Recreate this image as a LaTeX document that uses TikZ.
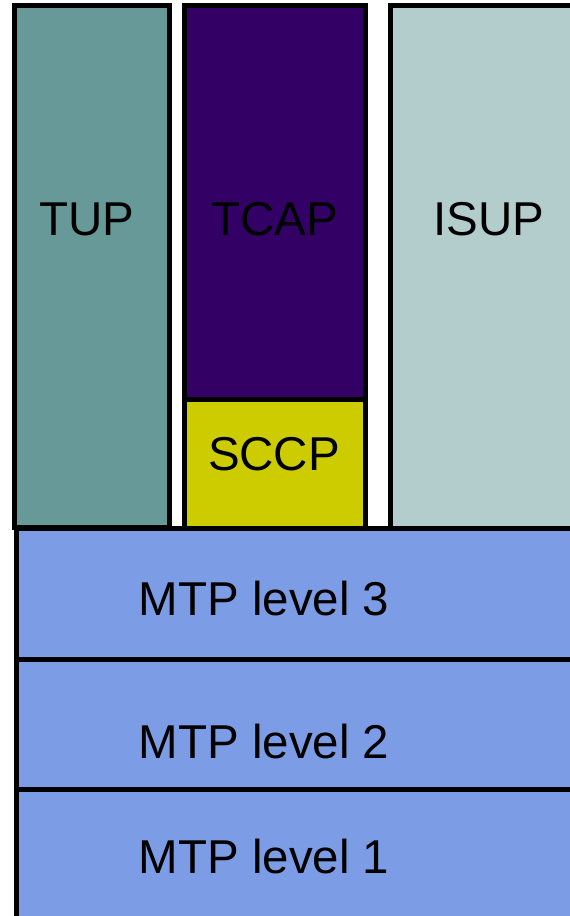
\documentclass[tikz,border=0pt]{standalone}
\usepackage{fontspec}
\setmainfont{Liberation Sans}
\usepackage{tikz}
\usetikzlibrary{positioning}
\definecolor{tupTeal}  {RGB}{102, 153, 152}
\definecolor{tcapPurple}{RGB}{51,   0, 102}
\definecolor{isupGray} {RGB}{179, 204, 204}
\definecolor{sccpYellow}{RGB}{204, 204,  0}
\definecolor{mtpBlue}  {RGB}{124, 157, 230}

\begin{document}
\begin{tikzpicture}[x=1pt,y=-1pt,
    layer/.style={draw=black,line width=5pt},
    lbl/.style={font=\fontsize{47.5}{52}\selectfont,anchor=base,inner sep=0pt}]
        \clip (0,0) rectangle (570,916);
        % Camadas superiores
        \draw[layer,fill=tupTeal]    (14.5,5.5)  rectangle (169.5,527.5);
        \draw[layer,fill=tcapPurple] (184.5,5.5) rectangle (365.5,399.5);
        \draw[layer,fill=sccpYellow] (184.5,399.5) rectangle (365.5,528.5);
        \draw[layer,fill=isupGray]   (390.5,5.5) rectangle (620,528.5);
        % MTP
        \draw[layer,fill=mtpBlue] (16.5,528.5) rectangle (620,659);
        \draw[layer,fill=mtpBlue] (16.5,659)   rectangle (620,789.5);
        \draw[layer,fill=mtpBlue] (16.5,789.5) rectangle (620,960);
        % Textos
        \node[lbl] (tup)  at (87,235)  {TUP};
        \node[lbl] (tcap) at (275,235) {TCAP};
        \node[lbl] (isup) at (489,235) {ISUP};
        \node[lbl] (sccp) at (274,470) {SCCP};
        \node[lbl] (mtp3) at (264,615) {MTP level 3};
        \node[lbl] (mtp2) at (264,758.5) {MTP level 2};
        \node[lbl] (mtp1) at (264,873) {MTP level 1};
      \end{tikzpicture}
\end{document}
